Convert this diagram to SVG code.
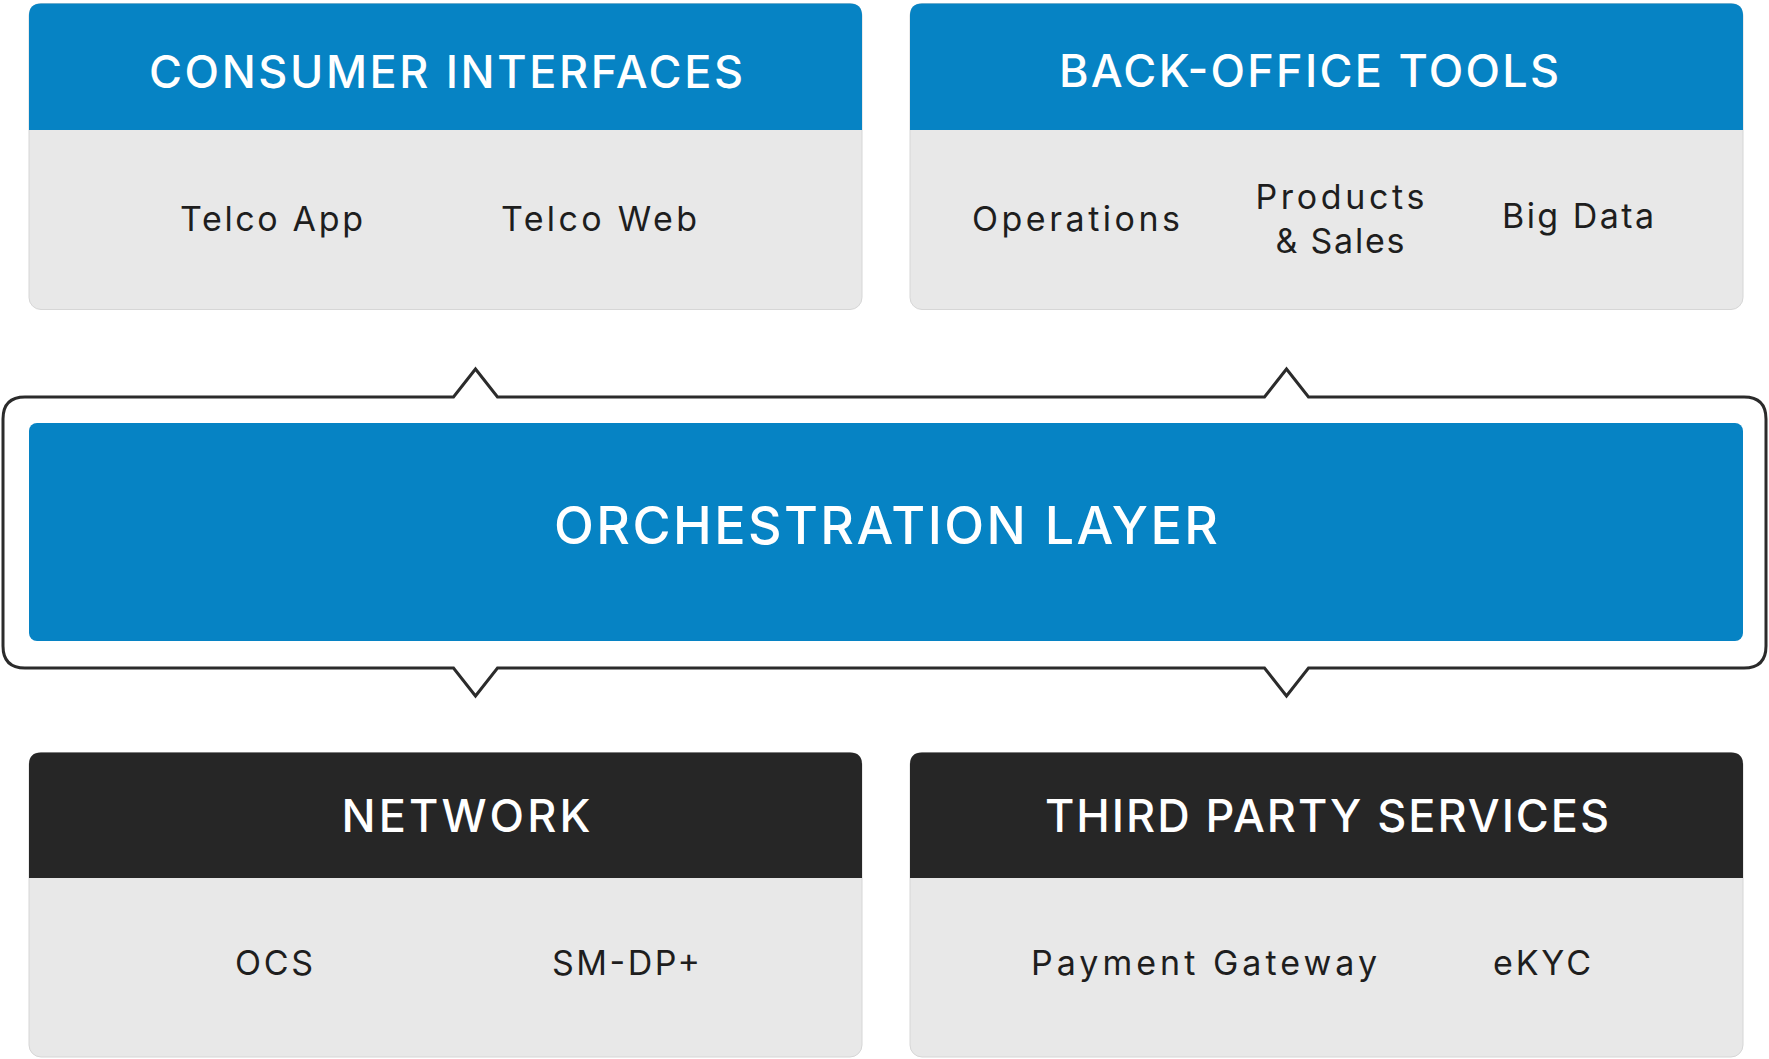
<svg xmlns="http://www.w3.org/2000/svg" width="1769" height="1059" viewBox="0 0 1769 1059">
<style>
.body{fill:#E8E8E8;stroke:#D6D6D6;stroke-width:1}
.hblue{fill:#0683C4}
.hdark{fill:#262626}
.ht{font-family:Inter,"Open Sans","Liberation Sans",sans-serif;font-size:45px;fill:#FFFFFF;text-anchor:middle;font-weight:500}
.bt{font-family:Inter,"Open Sans","Liberation Sans",sans-serif;font-size:34px;fill:#1E1E1E;text-anchor:middle;font-weight:400}
.frame{fill:none;stroke:#2B2B2B;stroke-width:3;stroke-linejoin:miter}
</style>
<rect width="1769" height="1059" fill="#FFFFFF"/>
<g id="connectors">
<path class="frame" d="M25,397 L453.5,397 L475.5,369 L497.5,397 L1264.5,397 L1286.5,369 L1308.5,397 L1744,397 Q1766,397 1766,419 L1766,646 Q1766,668 1744,668 L1308.5,668 L1286.5,696 L1264.5,668 L497.5,668 L475.5,696 L453.5,668 L25,668 Q3,668 3,646 L3,419 Q3,397 25,397 Z"/>
</g>
<g id="consumer-interfaces">
<rect class="body" x="29" y="3.5" width="833" height="306" rx="12"/>
<path class="hblue" d="M29,130 L29,15.5 Q29,3.5 41,3.5 L850,3.5 Q862,3.5 862,15.5 L862,130 Z"/>
<text class="ht" x="446" y="88" textLength="594" lengthAdjust="spacing">CONSUMER INTERFACES</text>
<text class="bt" x="271.5" y="231" textLength="183" lengthAdjust="spacing">Telco App</text>
<text class="bt" x="599" y="231" textLength="196" lengthAdjust="spacing">Telco Web</text>
</g>
<g id="back-office-tools">
<rect class="body" x="910" y="3.5" width="833" height="306" rx="12"/>
<path class="hblue" d="M910,130 L910,15.5 Q910,3.5 922,3.5 L1731,3.5 Q1743,3.5 1743,15.5 L1743,130 Z"/>
<text class="ht" x="1309" y="87" textLength="500" lengthAdjust="spacing">BACK-OFFICE TOOLS</text>
<text class="bt" x="1076" y="231" textLength="208" lengthAdjust="spacing">Operations</text>
<text class="bt" x="1340" y="209" textLength="169" lengthAdjust="spacing">Products</text>
<text class="bt" x="1340" y="253" textLength="129" lengthAdjust="spacing">&amp; Sales</text>
<text class="bt" x="1578" y="228" textLength="152" lengthAdjust="spacing">Big Data</text>
</g>
<g id="orchestration-layer">
<rect class="hblue" x="29" y="423" width="1714" height="218" rx="8"/>
<text class="ht" x="886" y="544" style="font-size:52px" textLength="664" lengthAdjust="spacing">ORCHESTRATION LAYER</text>
</g>
<g id="network">
<rect class="body" x="29" y="752.5" width="833" height="304.5" rx="12"/>
<path class="hdark" d="M29,878 L29,764.5 Q29,752.5 41,752.5 L850,752.5 Q862,752.5 862,764.5 L862,878 Z"/>
<text class="ht" x="466" y="832" textLength="249" lengthAdjust="spacing">NETWORK</text>
<text class="bt" x="274" y="975" textLength="78" lengthAdjust="spacing">OCS</text>
<text class="bt" x="626" y="975" textLength="148" lengthAdjust="spacing">SM-DP+</text>
</g>
<g id="third-party-services">
<rect class="body" x="910" y="752.5" width="833" height="304.5" rx="12"/>
<path class="hdark" d="M910,878 L910,764.5 Q910,752.5 922,752.5 L1731,752.5 Q1743,752.5 1743,764.5 L1743,878 Z"/>
<text class="ht" x="1327" y="832" textLength="564" lengthAdjust="spacing">THIRD PARTY SERVICES</text>
<text class="bt" x="1204" y="975" textLength="346" lengthAdjust="spacing">Payment Gateway</text>
<text class="bt" x="1542" y="975" textLength="98" lengthAdjust="spacing">eKYC</text>
</g>
</svg>
